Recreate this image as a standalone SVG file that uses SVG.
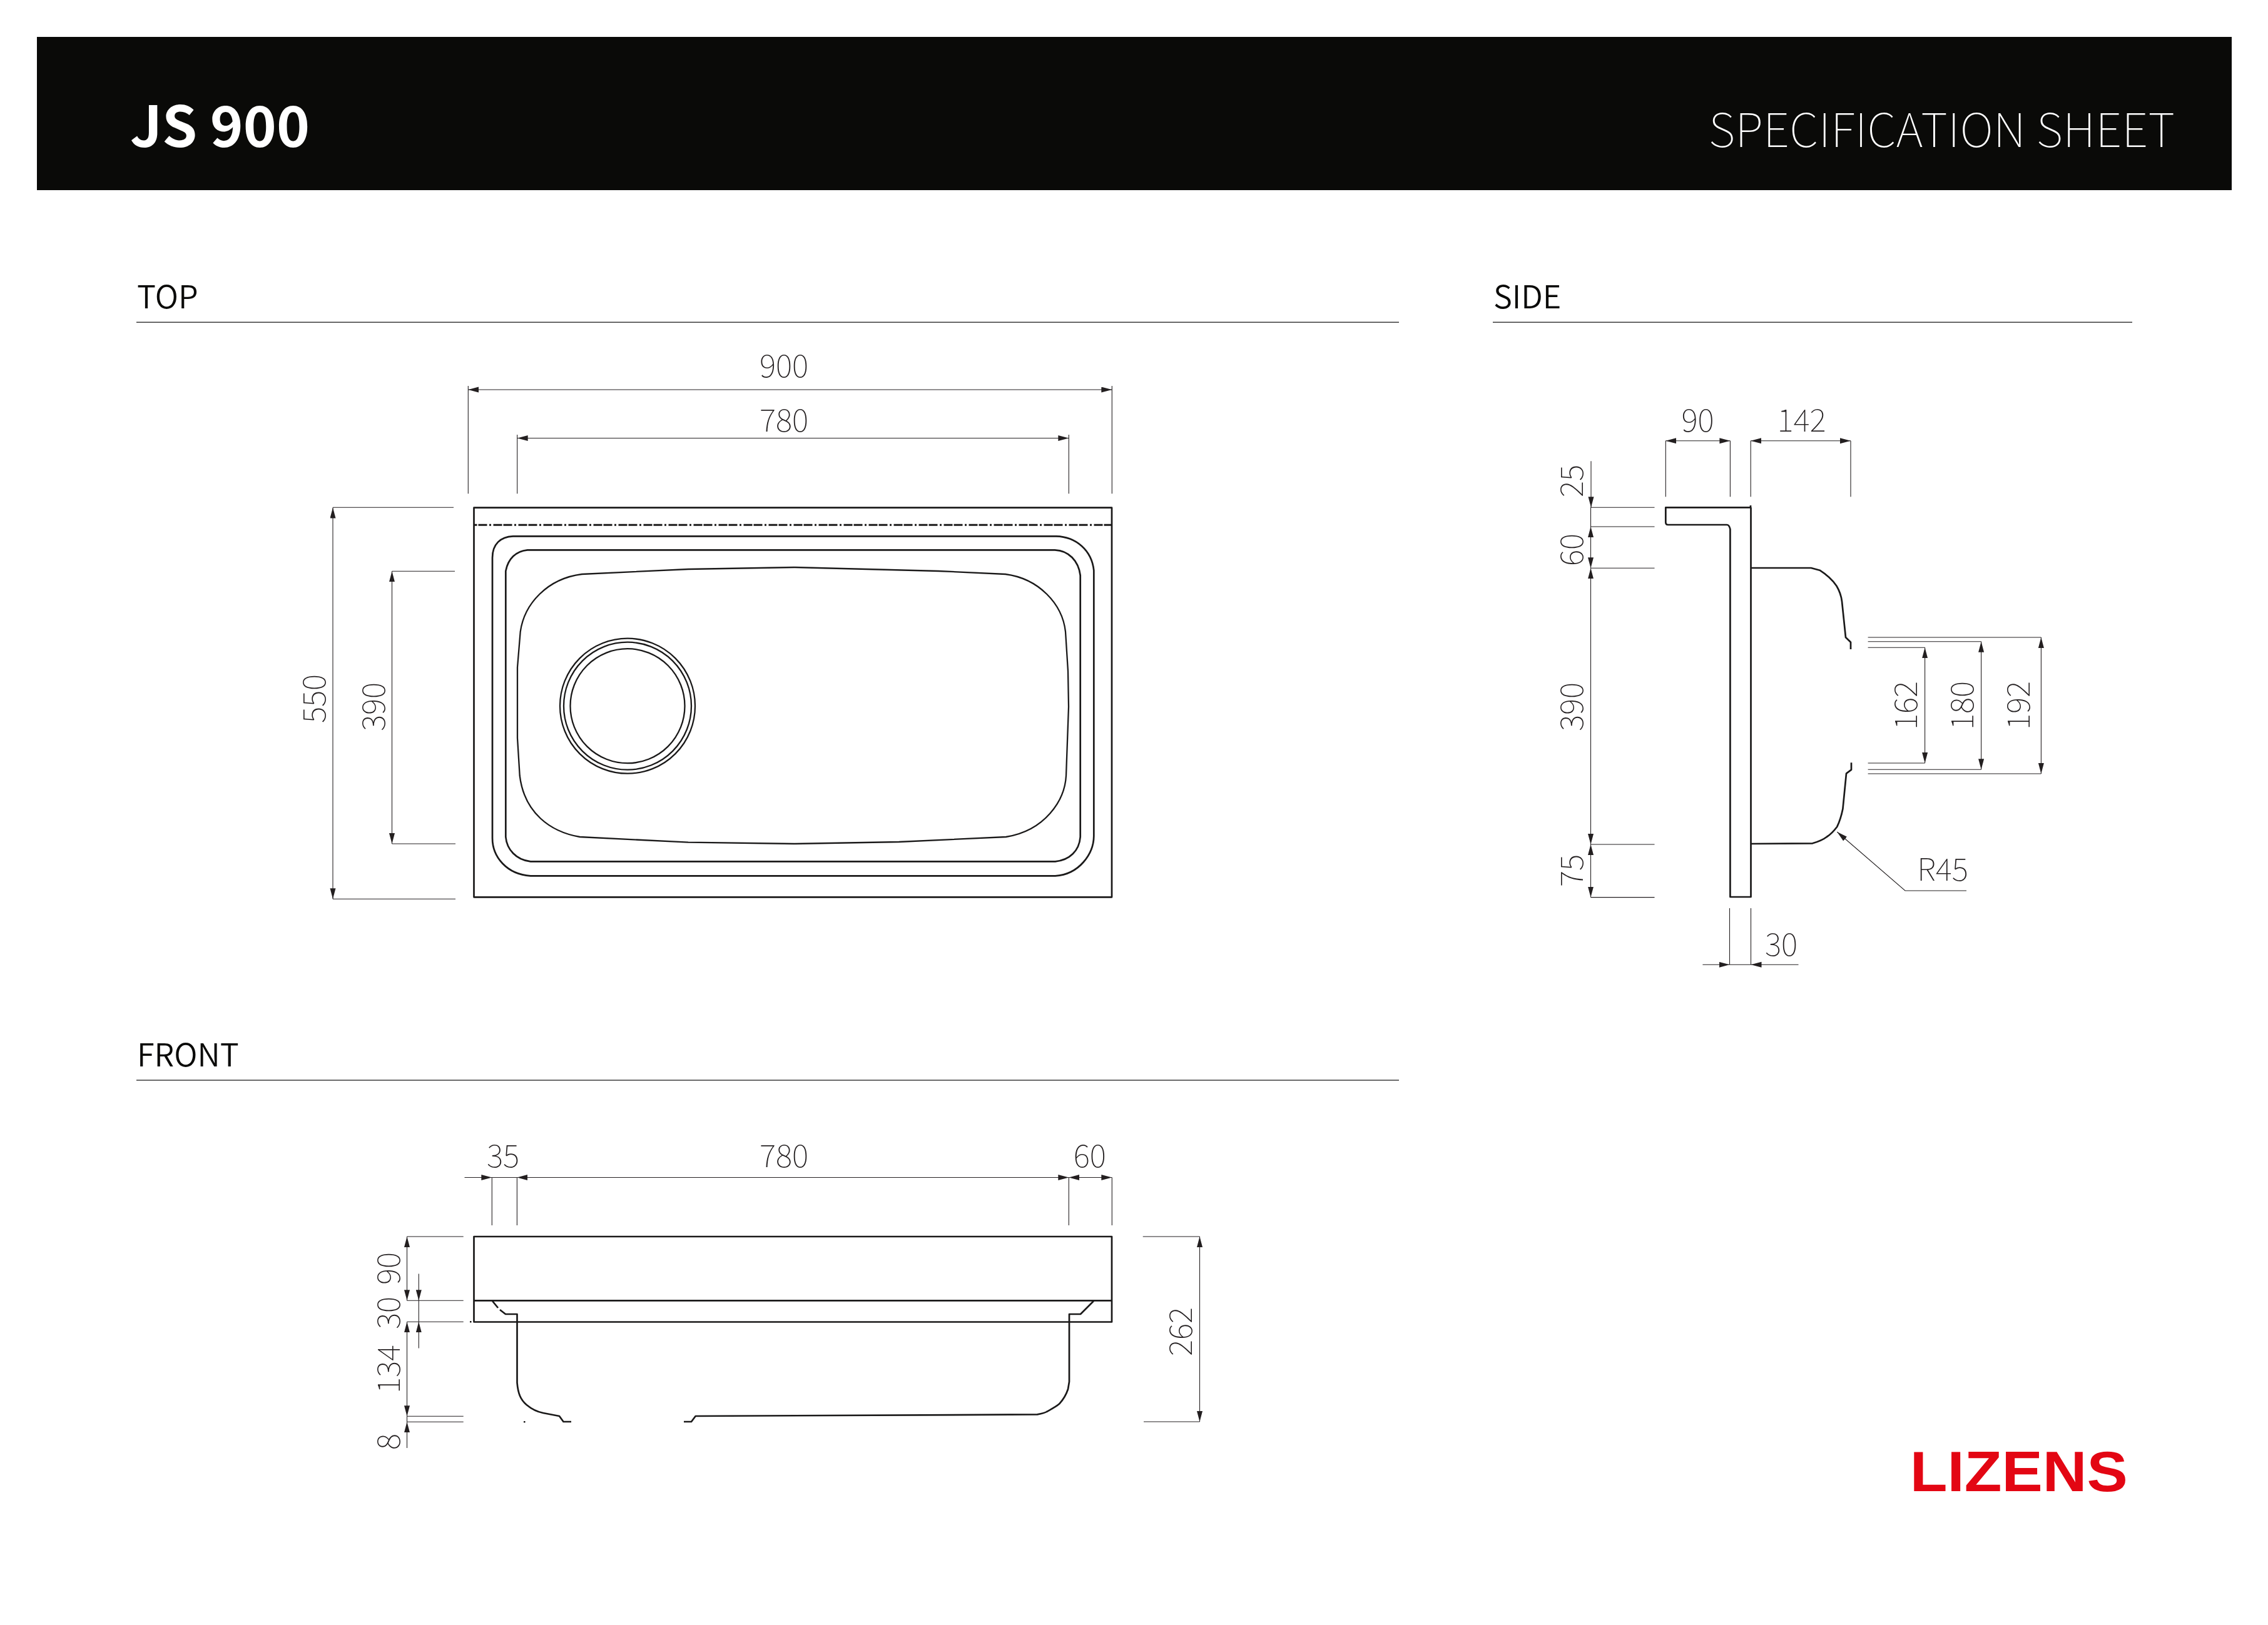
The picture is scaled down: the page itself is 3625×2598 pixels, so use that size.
<svg xmlns="http://www.w3.org/2000/svg" width="3625" height="2598" viewBox="0 0 3625 2598">
<style>
text{font-family:"Noto Sans CJK KR","Noto Sans",sans-serif}
.dim{font-size:50px;font-weight:100;fill:#231f20;text-anchor:middle}
.head{font-size:50.5px;font-weight:350;fill:#0a0a08}
.obj{fill:none;stroke:#1a1919;stroke-width:2.7;stroke-linejoin:round}
.thin{fill:none;stroke:#1a1919;stroke-width:2.3;stroke-linejoin:round}
.ln{fill:none;stroke:#231f20;stroke-width:1.1}
.a{marker-end:url(#arr)}
.s{marker-start:url(#arr)}
.rule{stroke:#3a3a3a;stroke-width:1.4}
</style>
<defs>
<marker id="arr" markerUnits="userSpaceOnUse" markerWidth="18" markerHeight="10" refX="17" refY="4.5" orient="auto-start-reverse"><path d="M0,0L17,4.5L0,9z" fill="#231f20"/></marker>
</defs>
<rect width="3625" height="2598" fill="#fff"/>
<g id="header">
<rect x="59" y="59" width="3508" height="245" fill="#0a0a08"/>
<text x="208" y="235" font-size="90" font-weight="700" fill="#fff">JS 900</text>
<text x="2731" y="235" font-size="74" font-weight="100" fill="#fff" textLength="745" lengthAdjust="spacing">SPECIFICATION SHEET</text>
</g>
<g id="sections">
<text class="head" x="219" y="493">TOP</text>
<line class="rule" x1="218" y1="515.3" x2="2236" y2="515.3"/>
<text class="head" x="2387" y="493">SIDE</text>
<line class="rule" x1="2386" y1="515.3" x2="3408" y2="515.3"/>
<text class="head" x="219" y="1705">FRONT</text>
<line class="rule" x1="218" y1="1727" x2="2236" y2="1727"/>
</g>
<g id="top-view">
<rect class="obj" x="757.5" y="811.7" width="1019.5" height="622.6"/>
<line x1="757.5" y1="839.3" x2="1777" y2="839.3" stroke="#1a1919" stroke-width="2.9" stroke-dasharray="14 2 14 3.5 3 3.5" stroke-dashoffset="9"/>
<path class="obj" d="M820,857.3L1688,857.3C1720,858 1745,880 1748.3,912L1748.3,1336.7C1748,1365 1725,1398 1686.7,1400.3L848,1400.3C810,1398 787,1370 787,1340L787,891.7C787,870 800,858 820,857.3Z"/>
<path class="obj" d="M843,879.3L1686,879.3C1708,880 1724,897 1726.7,920L1726.7,1338C1725,1360 1710,1375 1686.7,1377.3L848,1377.3C825,1375 810,1358 808.3,1338L808.3,913C812,893 825,881 843,879.3Z"/>
<path class="thin" d="M827,1123L827,1067L831.7,1010C838,965 875,925 930,918L1100,910L1270,907L1500,913L1607,918C1660,925 1698,965 1703,1010L1707,1073L1708,1130L1704,1240C1702,1280 1670,1328 1608,1338L1436.7,1346L1270,1349L1100,1346.7L926.7,1338C880,1330 838,1300 830.7,1240L827,1180Z"/>
<circle class="thin" cx="1003" cy="1128.7" r="108"/>
<circle class="thin" cx="1003" cy="1128.7" r="102"/>
<circle class="thin" cx="1003" cy="1128.7" r="91.5"/>
</g>
<g id="side-view">
<path class="obj" d="M2798,808L2798,811.3L2662.3,811.3L2662.3,835C2662.3,838 2664,839 2666,839L2760,839C2763,839 2764.5,842 2765.4,846L2765.4,1434L2798.5,1434L2798.5,811.3"/>
<path class="obj" d="M2798.5,908L2894.7,908L2908.5,911.7C2920,919 2928,926 2935.4,936.7C2941,946 2943,953 2944,961.7L2950,1019L2958,1026.7L2958,1038"/>
<path class="obj" d="M2959,1219.3L2959,1230.7L2951,1236.7L2945.4,1293.3C2943,1305 2941,1312 2936.3,1321.7C2930,1330 2926,1334 2919.7,1338C2912,1344 2905,1346 2897,1348.3L2798.5,1349"/>
</g>
<g id="front-view">
<rect class="obj" x="757.5" y="1977" width="1019.5" height="136.5"/>
<line class="obj" x1="757.5" y1="2079.3" x2="1777" y2="2079.3"/>
<path class="obj" d="M787,2080L796,2091M799,2094L808,2101L826.5,2101L826.5,2210.7C828,2228 832,2238 841.6,2246C850,2253 858,2257 868,2259L894,2264L900.5,2273L913,2273"/>
<path class="obj" d="M1093,2273L1105,2273L1111.7,2264L1658,2261.4C1665,2260 1670,2259 1673,2257C1682,2252 1688,2249 1693,2244.6C1700,2237 1704,2230 1707,2221L1709,2209L1709,2101L1727,2101L1748,2080"/>
<rect x="751" y="2112" width="2.5" height="2.5" fill="#1a1919"/>
<rect x="837" y="2272" width="2.5" height="2.5" fill="#1a1919"/>
</g>
<g id="connectors">
<path class="ln s a" d="M748.3,623L1777.3,623"/>
<path class="ln" d="M748.3,617V789.3M1777.3,617V789.3"/>
<path class="ln s a" d="M826.7,700.5L1708.3,700.5"/>
<path class="ln" d="M826.7,695V789.3M1708.3,695V789.3"/>
<path class="ln s a" d="M532,811.5L532,1437.3"/>
<path class="ln" d="M532,811.3H725M532,1437.3H728"/>
<path class="ln s a" d="M626.5,913.3L626.5,1349"/>
<path class="ln" d="M626.5,913.3H727M626.5,1349H728"/>
<path class="ln a" d="M742.5,1882.5L786.3,1882.5"/>
<path class="ln" d="M786.3,1882.5H826.4M786.3,1882.5V1959M826.4,1882.5V1959M1708.3,1882.5V1959M1777.3,1882.5V1959"/>
<path class="ln s a" d="M826.4,1882.5L1708.3,1882.5"/>
<path class="ln s a" d="M1708.3,1882.5L1777.3,1882.5"/>
<path class="ln s a" d="M650.5,1977L650.5,2079.3"/>
<path class="ln s a" d="M650.5,2113.3L650.5,2264.3"/>
<path class="ln" d="M650.5,2264.3V2273.2M650.5,1977H740.7M650.5,2079.3H740.7M650.5,2113.3H740.7M650.5,2264.3H740.7M650.5,2273.2H740.7"/>
<path class="ln a" d="M650.5,2315L650.5,2273.2"/>
<path class="ln a" d="M669.3,2036.4L669.3,2079.3"/>
<path class="ln" d="M669.3,2079.3V2113.3"/>
<path class="ln a" d="M669.3,2155.4L669.3,2113.3"/>
<path class="ln s a" d="M1917.5,1977L1917.5,2273"/>
<path class="ln" d="M1826.7,1977H1917.5M1828,2273H1917.5"/>
<path class="ln s a" d="M2662.3,704.7L2765.4,704.7"/>
<path class="ln s a" d="M2798.2,704.7L2958,704.7"/>
<path class="ln" d="M2662.3,704.7V794.3M2765.4,704.7V794.3M2798.2,704.7V794.3M2958,704.7V794.3"/>
<path class="ln a" d="M2543,737.3L2543,811.3"/>
<path class="ln" d="M2542.5,811.3V842M2542.5,811.3H2644.5M2542.5,842H2644.5M2542.5,908.3H2644.5M2542.5,1350H2644.5M2542.5,1434.6H2644.5"/>
<path class="ln s a" d="M2542.5,842L2542.5,908.3"/>
<path class="ln s a" d="M2542.5,908.3L2542.5,1350"/>
<path class="ln s a" d="M2542.5,1350L2542.5,1434.6"/>
<path class="ln" d="M2985.6,1019H3262.4M2985.6,1025.7H3166.6M2985.6,1035.3H3076.6M2985.6,1220H3076.6M2985.6,1230.3H3166.6M2985.6,1237H3262.4"/>
<path class="ln s a" d="M3076.6,1035.3L3076.6,1220"/>
<path class="ln s a" d="M3166.6,1025.7L3166.6,1230.3"/>
<path class="ln s a" d="M3262.4,1019L3262.4,1237"/>
<path class="ln a" d="M2721.4,1542.3L2764.5,1542.3"/>
<path class="ln a" d="M2874.5,1542.3L2798.5,1542.3"/>
<path class="ln" d="M2764.5,1542.3H2798.5M2764.5,1452V1542.3M2798.5,1452V1542.3"/>
<path class="ln s" d="M2936.3,1330L3045,1424L3143,1424"/>
</g>
<g id="labels">
<text class="dim" x="1253" y="603">900</text>
<text class="dim" x="1253" y="690">780</text>
<text class="dim" transform="translate(520 1117) rotate(-90)">550</text>
<text class="dim" transform="translate(615 1130) rotate(-90)">390</text>
<text class="dim" x="804" y="1866">35</text>
<text class="dim" x="1253" y="1866">780</text>
<text class="dim" x="1741.7" y="1866">60</text>
<text class="dim" transform="translate(639 2028) rotate(-90)">90</text>
<text class="dim" transform="translate(639 2099) rotate(-90)">30</text>
<text class="dim" transform="translate(639 2189) rotate(-90)">134</text>
<text class="dim" transform="translate(639 2305) rotate(-90)">8</text>
<text class="dim" transform="translate(1905 2129) rotate(-90)">262</text>
<text class="dim" x="2713.6" y="690">90</text>
<text class="dim" x="2879.6" y="690">142</text>
<text class="dim" transform="translate(2530 769) rotate(-90)">25</text>
<text class="dim" transform="translate(2530 879) rotate(-90)">60</text>
<text class="dim" transform="translate(2530 1130) rotate(-90)">390</text>
<text class="dim" transform="translate(2530 1392) rotate(-90)">75</text>
<text class="dim" transform="translate(3064 1128) rotate(-90)">162</text>
<text class="dim" transform="translate(3154 1128) rotate(-90)">180</text>
<text class="dim" transform="translate(3244 1128) rotate(-90)">192</text>
<text class="dim" x="2847" y="1528">30</text>
<text class="dim" x="3105" y="1408">R45</text>
</g>
<g id="logo">
<text x="3052.7" y="2384.3" style="font-family:'Liberation Sans',sans-serif" font-size="91" font-weight="700" fill="#e30613" textLength="348" lengthAdjust="spacingAndGlyphs">LIZENS</text>
</g>
</svg>
